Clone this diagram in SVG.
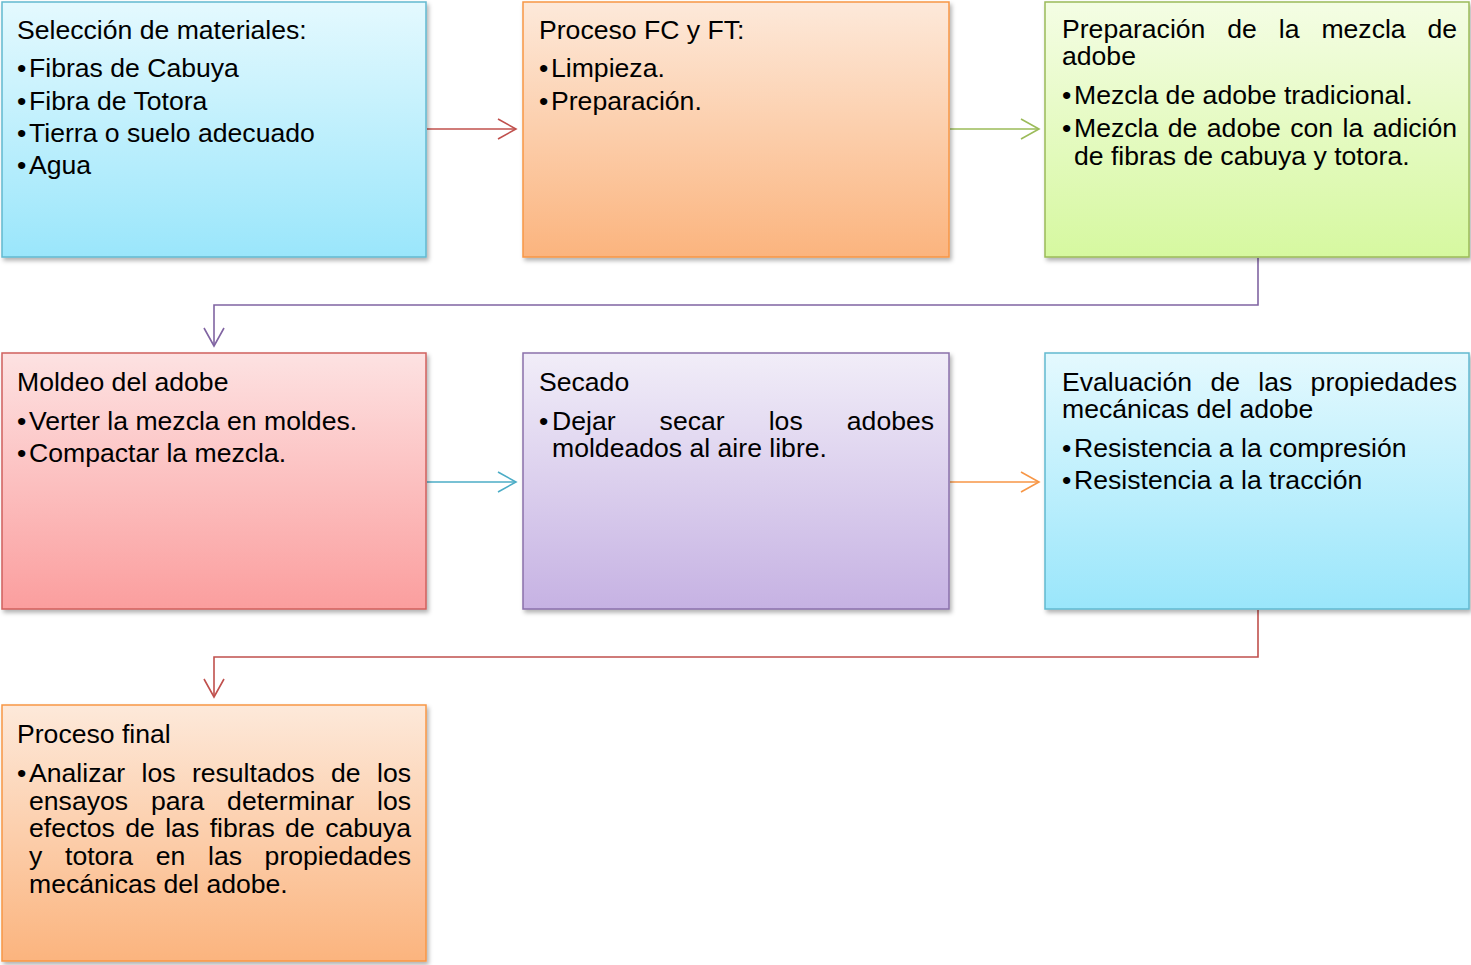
<svg xmlns="http://www.w3.org/2000/svg" width="1471" height="965" viewBox="0 0 1471 965">
<defs>
<style>
text{font-family:"Liberation Sans",Arial,sans-serif;font-size:26.6px;fill:#000}
.box{stroke-width:1.5;filter:url(#sh)}
.c{fill:none;stroke-width:1.6}
</style>
<filter id="sh" x="-5%" y="-5%" width="112%" height="115%">
<feDropShadow dx="2" dy="3" stdDeviation="2" flood-color="#000" flood-opacity="0.3"/>
</filter>
<linearGradient id="gC" x1="0" y1="0" x2="0" y2="1"><stop offset="0" stop-color="#e4f9fe"/><stop offset="1" stop-color="#9ae6fb"/></linearGradient>
<linearGradient id="gO" x1="0" y1="0" x2="0" y2="1"><stop offset="0" stop-color="#fde9da"/><stop offset="1" stop-color="#fbb47e"/></linearGradient>
<linearGradient id="gG" x1="0" y1="0" x2="0" y2="1"><stop offset="0" stop-color="#f4fde4"/><stop offset="1" stop-color="#d6f8a0"/></linearGradient>
<linearGradient id="gR" x1="0" y1="0" x2="0" y2="1"><stop offset="0" stop-color="#fde2e2"/><stop offset="1" stop-color="#fb9e9e"/></linearGradient>
<linearGradient id="gP" x1="0" y1="0" x2="0" y2="1"><stop offset="0" stop-color="#f1edf8"/><stop offset="1" stop-color="#c6b2e3"/></linearGradient>
<marker id="mR" markerUnits="userSpaceOnUse" markerWidth="22" markerHeight="24" refX="19" refY="11" orient="auto" viewBox="0 0 22 24"><path d="M1,1 L19,11 L1,21" fill="none" stroke="#c0504d" stroke-width="1.6"/></marker>
<marker id="mG" markerUnits="userSpaceOnUse" markerWidth="22" markerHeight="24" refX="19" refY="11" orient="auto" viewBox="0 0 22 24"><path d="M1,1 L19,11 L1,21" fill="none" stroke="#9bbb59" stroke-width="1.6"/></marker>
<marker id="mP" markerUnits="userSpaceOnUse" markerWidth="22" markerHeight="24" refX="19" refY="11" orient="auto" viewBox="0 0 22 24"><path d="M1,1 L19,11 L1,21" fill="none" stroke="#8064a2" stroke-width="1.6"/></marker>
<marker id="mC" markerUnits="userSpaceOnUse" markerWidth="22" markerHeight="24" refX="19" refY="11" orient="auto" viewBox="0 0 22 24"><path d="M1,1 L19,11 L1,21" fill="none" stroke="#4bacc6" stroke-width="1.6"/></marker>
<marker id="mO" markerUnits="userSpaceOnUse" markerWidth="22" markerHeight="24" refX="19" refY="11" orient="auto" viewBox="0 0 22 24"><path d="M1,1 L19,11 L1,21" fill="none" stroke="#f79646" stroke-width="1.6"/></marker>
</defs>
<rect width="1471" height="965" fill="#fff"/>

<g id="connectors">
<path class="c" d="M427,129 H516" stroke="#c0504d" marker-end="url(#mR)"/>
<path class="c" d="M950,129 H1039" stroke="#9bbb59" marker-end="url(#mG)"/>
<path class="c" d="M1258,258 V305 H214 V346" stroke="#8064a2" marker-end="url(#mP)"/>
<path class="c" d="M427,482 H516" stroke="#4bacc6" marker-end="url(#mC)"/>
<path class="c" d="M950,482 H1039" stroke="#f79646" marker-end="url(#mO)"/>
<path class="c" d="M1258,610 V657 H214 V697" stroke="#c0504d" marker-end="url(#mR)"/>
</g>

<g id="n1">
<rect class="box" x="2" y="2" width="424" height="255" fill="url(#gC)" stroke="#62b9d0"/>
<text x="17" y="39">Selección de materiales:</text>
<text x="17" y="77">•</text><text x="29" y="77">Fibras de Cabuya</text>
<text x="17" y="110">•</text><text x="29" y="110">Fibra de Totora</text>
<text x="17" y="142">•</text><text x="29" y="142">Tierra o suelo adecuado</text>
<text x="17" y="174">•</text><text x="29" y="174">Agua</text>
</g>

<g id="n2">
<rect class="box" x="523" y="2" width="426" height="255" fill="url(#gO)" stroke="#f79646"/>
<text x="539" y="39">Proceso FC y FT:</text>
<text x="539" y="77">•</text><text x="551" y="77">Limpieza.</text>
<text x="539" y="110">•</text><text x="551" y="110">Preparación.</text>
</g>

<g id="n3">
<rect class="box" x="1045" y="2" width="424" height="255" fill="url(#gG)" stroke="#9bbb59"/>
<text y="38"><tspan x="1062">Preparación</tspan><tspan x="1227.3">de</tspan><tspan x="1278.8">la</tspan><tspan x="1321.4">mezcla</tspan><tspan x="1427.5">de</tspan></text>
<text x="1062" y="65">adobe</text>
<text x="1062" y="104">•</text><text x="1074" y="104">Mezcla de adobe tradicional.</text>
<text x="1062" y="137">•</text>
<text y="137"><tspan x="1074">Mezcla</tspan><tspan x="1167.7">de</tspan><tspan x="1206.8">adobe</tspan><tspan x="1290.2">con</tspan><tspan x="1342.6">la</tspan><tspan x="1372.8">adición</tspan></text>
<text x="1074" y="165">de fibras de cabuya y totora.</text>
</g>

<g id="n4">
<rect class="box" x="2" y="353" width="424" height="256" fill="url(#gR)" stroke="#d0605d"/>
<text x="17" y="391">Moldeo del adobe</text>
<text x="17" y="430">•</text><text x="29" y="430">Verter la mezcla en moldes.</text>
<text x="17" y="462">•</text><text x="29" y="462">Compactar la mezcla.</text>
</g>

<g id="n5">
<rect class="box" x="523" y="353" width="426" height="256" fill="url(#gP)" stroke="#8a70ab"/>
<text x="539" y="391">Secado</text>
<text x="539" y="430">•</text>
<text y="430"><tspan x="552">Dejar</tspan><tspan x="659.6">secar</tspan><tspan x="768.7">los</tspan><tspan x="846.8">adobes</tspan></text>
<text x="552" y="457">moldeados al aire libre.</text>
</g>

<g id="n6">
<rect class="box" x="1045" y="353" width="424" height="256" fill="url(#gC)" stroke="#62b9d0"/>
<text y="391"><tspan x="1062">Evaluación</tspan><tspan x="1210.4">de</tspan><tspan x="1258.3">las</tspan><tspan x="1310.6">propiedades</tspan></text>
<text x="1062" y="418">mecánicas del adobe</text>
<text x="1062" y="457">•</text><text x="1074" y="457">Resistencia a la compresión</text>
<text x="1062" y="489">•</text><text x="1074" y="489">Resistencia a la tracción</text>
</g>

<g id="n7">
<rect class="box" x="2" y="705" width="424" height="256" fill="url(#gO)" stroke="#f79646"/>
<text x="17" y="743">Proceso final</text>
<text x="17" y="782">•</text>
<text y="782"><tspan x="29">Analizar</tspan><tspan x="141.5">los</tspan><tspan x="191.9">resultados</tspan><tspan x="331">de</tspan><tspan x="377">los</tspan></text>
<text y="810"><tspan x="29">ensayos</tspan><tspan x="151">para</tspan><tspan x="227.1">determinar</tspan><tspan x="377">los</tspan></text>
<text y="837"><tspan x="29">efectos</tspan><tspan x="125.2">de</tspan><tspan x="165.2">las</tspan><tspan x="209.7">fibras</tspan><tspan x="285.1">de</tspan><tspan x="325.2">cabuya</tspan></text>
<text y="865"><tspan x="29">y</tspan><tspan x="65">totora</tspan><tspan x="155.7">en</tspan><tspan x="208">las</tspan><tspan x="264.6">propiedades</tspan></text>
<text x="29" y="893">mecánicas del adobe.</text>
</g>
</svg>
